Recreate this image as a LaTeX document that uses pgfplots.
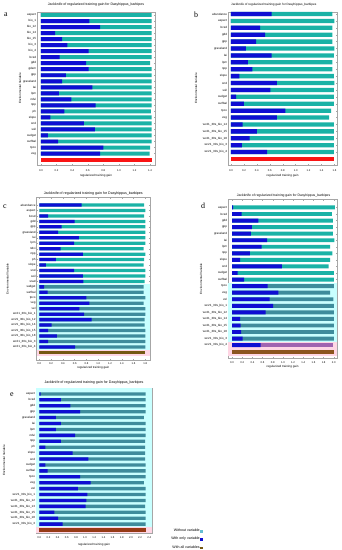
\documentclass[border=0pt]{standalone}
\usepackage{fontspec}
\setmainfont{Liberation Sans}
\newfontfamily\lettfont{Liberation Serif}
\usepackage{pgfplots}
\pgfplotsset{compat=1.18}
\definecolor{tealA}{RGB}{26,178,166}
\definecolor{tealD}{RGB}{62,140,156}
\definecolor{blueA}{RGB}{14,14,210}
\definecolor{redA}{RGB}{250,20,20}
\definecolor{brownC}{RGB}{118,88,18}
\definecolor{brownD}{RGB}{140,84,30}
\definecolor{brownE}{RGB}{150,58,22}
\definecolor{cyanbg}{RGB}{200,255,255}
\definecolor{pinkbg}{RGB}{255,214,228}
\definecolor{purpD}{RGB}{160,100,176}
\definecolor{legteal}{RGB}{100,190,210}
\pgfplotsset{every axis title shift=0pt}
\pgfplotsset{jk/.style={
  scale only axis, anchor=south west,
  y dir=reverse,
  axis line style={gray!70, line width=0.3bp},
  tick style={gray!70, line width=0.3bp},
  major tick length=1.2bp,
  /pgf/number format/assume math mode=true,
  /pgf/number format/fixed, /pgf/number format/fixed zerofill, /pgf/number format/precision=1,
  scaled x ticks=false,
  xticklabel style={font=\fontsize{2.7}{3}\selectfont, anchor=center},
  yticklabel style={font=\fontsize{3}{3}\selectfont, inner sep=0.8bp},
  xlabel style={font=\fontsize{3}{3}\selectfont, anchor=center},
  ylabel style={font=\fontsize{3}{3}\selectfont, anchor=center},
  title style={anchor=south, inner sep=0pt},
  xlabel={regularized training gain},
  ylabel={Environmental Variable},
  title={Jackknife of regularized training gain for Dasyhippus\_barbipes},
}}
\begin{document}
\begin{tikzpicture}
\useasboundingbox (0bp,0bp) rectangle (342bp,550bp);
% ---------------- a ----------------
\begin{axis}[jk, at={(37bp,385bp)}, width=118bp, height=153bp,
  xmin=-0.051, xmax=1.463, ymin=0.5, ymax=25.9,
  xtick={0,0.2,0.4,0.6,0.8,1.0,1.2,1.4},
  ytick={1,...,24},
  yticklabels={aspect,bio\_1,bio\_12,bio\_14,bio\_15,bio\_3,bio\_4,bcsd,gdd,gdem,gpp,grassland,lai,lpm,ndvi,npp,ph,slope,snd,soil,sudget,surfbal,tpco,veg},
  title style={at={(0.5,1)}, yshift=6bp, font=\fontsize{3.5}{4}\selectfont},
  xticklabel style={yshift=-6bp},
  xlabel style={at={(axis description cs:0.5,-0.072)}},
  ylabel style={at={(axis description cs:-0.144,0.5)}},
]
\addplot[xbar, bar shift=0pt, bar width=0.66, fill=tealA, draw=none] coordinates {
(1.42,1) (1.42,2) (1.42,3) (1.42,4) (1.42,5) (1.42,6) (1.42,7) (1.42,8) (1.40,9) (1.42,10) (1.42,11) (1.42,12) (1.42,13) (1.42,14) (1.42,15) (1.42,16) (1.41,17) (1.42,18) (1.42,19) (1.42,20) (1.42,21) (1.42,22) (1.40,23) (1.395,24)};
\addplot[xbar, bar shift=0pt, bar width=0.66, fill=blueA, draw=none] coordinates {
(0,1) (0.62,2) (0.76,3) (0.18,4) (0.27,5) (0.34,6) (0.61,7) (0.24,8) (0.58,9) (0.61,10) (0.32,11) (0.27,12) (0.66,13) (0.23,14) (0.39,15) (0.70,16) (0.30,17) (0.12,18) (0.55,19) (0.69,20) (0.09,21) (0.22,22) (0.80,23) (0.76,24)};
\addplot[xbar, bar shift=0pt, bar width=0.66, fill=redA, draw=none] coordinates {(1.43,25)};
\end{axis}
% ---------------- b ----------------
\begin{axis}[jk, at={(228bp,385bp)}, width=109bp, height=153bp,
  xmin=-0.046, xmax=1.64, ymin=0.71, ymax=22.87,
  xtick={0,0.2,0.4,0.6,0.8,1.0,1.2,1.4,1.6},
  ytick={1,...,21},
  yticklabels={abundance,aspect,bcsd,gdd,gpp,grassland,lai,lpm,npp,slope,snd,soil,sudget,surfbal,tpco,veg,wc21\_30s\_bio\_14,wc21\_30s\_bio\_15,wc21\_30s\_bio\_18,wc21\_30s\_bio\_3,wc21\_30s\_bio\_4},
  title style={at={(0.42,1)}, yshift=6bp, font=\fontsize{3.1}{4}\selectfont},
  xticklabel style={yshift=-6bp},
  xlabel style={at={(axis description cs:0.5,-0.072)}},
  ylabel style={at={(axis description cs:-0.294,0.5)}},
]
\addplot[xbar, bar shift=0pt, bar width=0.62, fill=tealA, draw=none] coordinates {
(1.57,1) (1.60,2) (1.57,3) (1.57,4) (1.57,5) (1.60,6) (1.59,7) (1.57,8) (1.57,9) (1.59,10) (1.60,11) (1.59,12) (1.59,13) (1.59,14) (1.55,15) (1.52,16) (1.59,17) (1.59,18) (1.59,19) (1.59,20) (1.59,21)};
\addplot[xbar, bar shift=0pt, bar width=0.62, fill=blueA, draw=none] coordinates {
(0.63,1) (0,2) (0.45,3) (0.53,4) (0.39,5) (0.23,6) (0.63,7) (0.26,8) (0.33,9) (0.13,10) (0.71,11) (0.61,12) (0.08,13) (0.20,14) (0.84,15) (0.71,16) (0.18,17) (0.40,18) (0.29,19) (0.17,20) (0.56,21)};
\addplot[xbar, bar shift=0pt, bar width=0.62, fill=redA, draw=none] coordinates {(1.60,22)};
\end{axis}
% ---------------- c ----------------
\begin{axis}[jk, at={(36.5bp,190bp)}, width=113.5bp, height=162.5bp,
  xmin=-0.048, xmax=1.88, ymin=-0.38, ymax=29.4,
  xtick={0,0.2,0.4,0.6,0.8,1.0,1.2,1.4,1.6,1.8},
  ytick={1,...,27},
  yticklabels={abundance,aspect,bcsd,gdd,gpp,grassland,lai,lpm,ndvi,npp,ph,slope,snd,soil,srad,sudget,surfbal,tpco,veg,vel,wc21\_30s\_bio\_1,wc21\_30s\_bio\_12,wc21\_30s\_bio\_14,wc21\_30s\_bio\_15,wc21\_30s\_bio\_18,wc21\_30s\_bio\_3,wc21\_30s\_bio\_4},
  title style={at={(0.5,1)}, yshift=2.5bp, font=\fontsize{3.6}{4}\selectfont},
  xticklabel style={yshift=-4bp},
  xlabel style={at={(axis description cs:0.5,-0.049)}},
  ylabel style={at={(axis description cs:-0.256,0.5)}},
]
\fill[cyanbg] (axis cs:-0.048,15.5) rectangle (axis cs:1.88,27.5);
\fill[pinkbg] (axis cs:-0.048,27.5) rectangle (axis cs:1.88,28.6);
\addplot[xbar, bar shift=0pt, bar width=0.6, fill=tealA, draw=none] coordinates {
(1.78,1) (1.80,2) (1.78,3) (1.80,4) (1.80,5) (1.80,6) (1.80,7) (1.80,8) (1.77,9) (1.80,10) (1.78,11) (1.77,12) (1.80,13) (1.80,14) (1.79,15)};
\addplot[xbar, bar shift=0pt, bar width=0.6, fill=tealD, draw=none] coordinates {
(1.77,16) (1.77,17) (1.80,18) (1.77,19) (1.80,20) (1.80,21) (1.79,22) (1.79,23) (1.80,24) (1.80,25) (1.80,26) (1.80,27)};
\addplot[xbar, bar shift=0pt, bar width=0.6, fill=blueA, draw=none] coordinates {
(0.72,1) (0,2) (0.15,3) (0.60,4) (0.38,5) (0.32,6) (0.67,7) (0.59,8) (0.36,9) (0.74,10) (0.28,11) (0.11,12) (0.59,13) (0.74,14) (0.75,15) (0.08,16) (0.14,17) (0.80,18) (0.85,19) (0.68,20) (0.76,21) (0.89,22) (0.21,23) (0.15,24) (0.30,25) (0.15,26) (0.61,27)};
\addplot[xbar, bar shift=0pt, bar width=0.6, fill=brownC, draw=none] coordinates {(1.80,28)};
\end{axis}
% ---------------- d ----------------
\begin{axis}[jk, at={(228bp,192bp)}, width=109bp, height=158.5bp,
  xmin=-0.079, xmax=2.063, ymin=-0.21, ymax=23.96,
  xtick={0,0.2,0.4,0.6,0.8,1.0,1.2,1.4,1.6,1.8,2.0},
  ytick={1,...,22},
  yticklabels={aspect,bcsd,gdd,gpp,grassland,lai,lpm,npp,slope,snd,sudget,surfbal,tpco,veg,vel,wc21\_30s\_bio\_1,wc21\_30s\_bio\_12,wc21\_30s\_bio\_14,wc21\_30s\_bio\_15,wc21\_30s\_bio\_18,wc21\_30s\_bio\_3,wc21\_30s\_bio\_4},
  title style={at={(0.51,1)}, yshift=2.5bp, font=\fontsize{3.4}{4}\selectfont},
  xticklabel style={yshift=-4.5bp},
  xlabel style={at={(axis description cs:0.5,-0.057)}},
  ylabel style={at={(axis description cs:-0.248,0.5)}},
]
\fill[cyanbg] (axis cs:-0.079,12.5) rectangle (axis cs:2.063,21.5);
\fill[pinkbg] (axis cs:-0.079,21.5) rectangle (axis cs:2.063,23.6);
\addplot[xbar, bar shift=0pt, bar width=0.6, fill=tealA, draw=none] coordinates {
(2.02,1) (1.96,2) (1.98,3) (1.98,4) (1.98,5) (2.01,6) (1.93,7) (1.97,8) (1.93,9) (1.90,10) (2.00,11) (2.00,12)};
\addplot[xbar, bar shift=0pt, bar width=0.6, fill=tealD, draw=none] coordinates {
(2.00,13) (1.93,14) (1.99,15) (2.00,16) (2.00,17) (2.00,18) (2.00,19) (2.00,20) (2.00,21)};
\addplot[xbar, bar shift=0pt, bar width=0.6, fill=purpD, draw=none] coordinates {(1.99,22)};
\addplot[xbar, bar shift=0pt, bar width=0.6, fill=blueA, draw=none] coordinates {
(0.02,1) (0.19,2) (0.52,3) (0.39,4) (0.37,5) (0.69,6) (0.58,7) (0.35,8) (0.16,9) (0.98,10) (0.11,11) (0.24,12) (0.70,13) (0.91,14) (0.74,15) (0.81,16) (0.66,17) (0.16,18) (0.17,19) (0.18,20) (0.21,21) (0.56,22)};
\addplot[xbar, bar shift=0pt, bar width=0.6, fill=brownD, draw=none] coordinates {(2.00,23)};
\end{axis}
% ---------------- e ----------------
\begin{axis}[jk, at={(36bp,17bp)}, width=116bp, height=145bp,
  xmin=-0.072, xmax=2.46, ymin=0, ymax=24.5,
  xtick={0,0.2,0.4,0.6,0.8,1.0,1.2,1.4,1.6,1.8,2.0,2.2,2.4},
  ytick={1,...,23},
  yticklabels={aspect,bcsd,gdd,gpp,grassland,lai,lpm,ndvi,npp,ph,slope,snd,sudget,surfbal,tpco,veg,vel,wc21\_30s\_bio\_1,wc21\_30s\_bio\_12,wc21\_30s\_bio\_13,wc21\_30s\_bio\_15,wc21\_30s\_bio\_18,wc21\_30s\_bio\_3},
  title style={at={(0.5,1)}, yshift=3.5bp, font=\fontsize{3.6}{4}\selectfont},
  xticklabel style={yshift=-4.5bp},
  xlabel style={at={(axis description cs:0.5,-0.082)}},
  ylabel style={at={(axis description cs:-0.276,0.5)}},
  legend style={at={(1.431,0.034)}, anchor=north east, draw=none, fill=none,
    font=\fontsize{3.6}{4}\selectfont, row sep=3bp, inner sep=0pt, nodes={inner sep=0.6bp}},
  legend plot pos=right, legend cell align=right,
]
\fill[cyanbg] (axis cs:-0.072,0) rectangle (axis cs:2.46,23.5);
\fill[pinkbg] (axis cs:-0.072,23.5) rectangle (axis cs:2.46,24.5);
\addplot[forget plot, xbar, bar shift=0pt, bar width=0.56, fill=tealD, draw=none] coordinates {
(2.32,1) (2.32,2) (2.32,3) (2.32,4) (2.28,5) (2.32,6) (2.32,7) (2.32,8) (2.31,9) (2.31,10) (2.31,11) (2.31,12) (2.32,13) (2.32,14) (2.32,15) (2.28,16) (2.32,17) (2.32,18) (2.32,19) (2.31,20) (2.32,21) (2.32,22) (2.32,23)};
\addplot[forget plot, xbar, bar shift=0pt, bar width=0.56, fill=blueA, draw=none] coordinates {
(0.03,1) (0.47,2) (0.68,3) (0.89,4) (0.36,5) (0.47,6) (0.36,7) (0.78,8) (0.47,9) (0.13,10) (0.73,11) (1.07,12) (0.13,13) (0.18,14) (0.89,15) (1.12,16) (0.84,17) (1.05,18) (1.03,19) (1.01,20) (0.33,21) (0.41,22) (0.51,23)};
\addplot[forget plot, xbar, bar shift=0pt, bar width=0.56, fill=brownE, draw=none] coordinates {(2.32,24)};
\addlegendimage{only marks, mark=square*, mark size=0.8bp, color=legteal}
\addlegendentry{Without variable}
\addlegendimage{only marks, mark=square*, mark size=0.8bp, color=blueA}
\addlegendentry{With only variable}
\addlegendimage{only marks, mark=square*, mark size=0.8bp, color=brownC}
\addlegendentry{With all variables}
\end{axis}
% panel letters
\node[font=\lettfont\fontsize{8}{8}\selectfont] at (6bp,535.3bp) {a};
\node[font=\lettfont\fontsize{8}{8}\selectfont] at (196bp,535bp) {b};
\node[font=\lettfont\fontsize{8}{8}\selectfont] at (5bp,343bp) {c};
\node[font=\lettfont\fontsize{8}{8}\selectfont] at (203bp,344bp) {d};
\node[font=\lettfont\fontsize{8}{8}\selectfont] at (12bp,155bp) {e};
\end{tikzpicture}
\end{document}
